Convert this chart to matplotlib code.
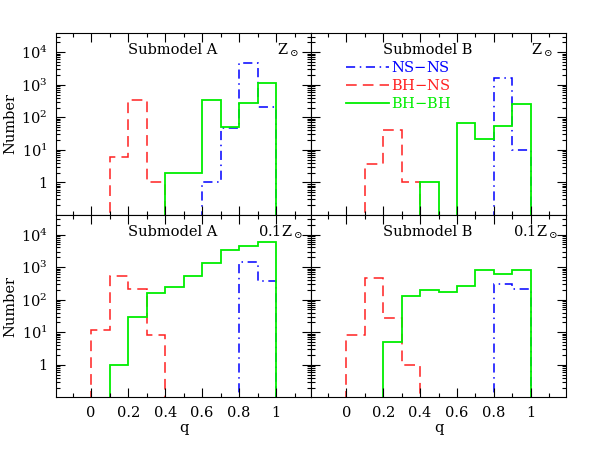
import numpy as np
import matplotlib
matplotlib.use("Agg")
import matplotlib.pyplot as plt
from matplotlib.ticker import FixedLocator, FixedFormatter, NullFormatter

plt.rcParams["font.family"] = ["DejaVu Serif"]
plt.rcParams["mathtext.fontset"] = "dejavuserif"
plt.rcParams["font.size"] = 10.5

# bin edges in mass ratio q
edges = np.round(np.arange(0.0, 1.01, 0.1), 1)

# counts per bin (0 = empty bin)
nsns_A_sol = [0, 0, 0, 0, 0, 0, 1, 46, 4800, 210]
bhns_A_sol = [0, 6, 330, 1, 0, 0, 0, 0, 0, 0]
bhbh_A_sol = [0, 0, 0, 0, 2, 2, 330, 51, 280, 1100]

nsns_B_sol = [0, 0, 0, 0, 0, 0, 0, 0, 1650, 10]
bhns_B_sol = [0, 3.8, 40, 1, 0, 0, 0, 0, 0, 0]
bhbh_B_sol = [0, 0, 0, 0, 1, 0, 66, 21, 54, 260]

nsns_A_low = [0, 0, 0, 0, 0, 0, 0, 0, 1440, 375]
bhns_A_low = [12, 540, 208, 8.2, 0, 0, 0, 0, 0, 0]
bhbh_A_low = [0, 1, 29, 164, 250, 540, 1340, 3300, 4300, 6000]

nsns_B_low = [0, 0, 0, 0, 0, 0, 0, 0, 310, 218]
bhns_B_low = [8, 465, 27, 1, 0, 0, 0, 0, 0, 0]
bhbh_B_low = [0, 0, 5, 130, 200, 177, 257, 800, 600, 820]

panels = [
    ("Submodel A", r"Z$_\odot$", nsns_A_sol, bhns_A_sol, bhbh_A_sol),
    ("Submodel B", r"Z$_\odot$", nsns_B_sol, bhns_B_sol, bhbh_B_sol),
    ("Submodel A", r"0.1Z$_\odot$", nsns_A_low, bhns_A_low, bhbh_A_low),
    ("Submodel B", r"0.1Z$_\odot$", nsns_B_low, bhns_B_low, bhbh_B_low),
]

FLOOR = 1e-3  # drawn below the axis so empty bins drop out of view


def draw_hist(ax, counts, **kw):
    c = np.array(counts, dtype=float)
    nz = np.nonzero(c)[0]
    lo, hi = nz[0], nz[-1] + 1
    vals = np.where(c[lo:hi] > 0, c[lo:hi], FLOOR)
    return ax.stairs(vals, edges[lo:hi + 1], baseline=FLOOR, **kw)


fig = plt.figure(figsize=(5.98, 4.51), dpi=100)
x0, xm, x1 = 56 / 598, 311.3 / 598, 565.7 / 598
yb, ym, yt = 1 - 397.3 / 451, 1 - 215 / 451, 1 - 32.7 / 451
w = xm - x0
h = ym - yb
rects = [(x0, ym, w, yt - ym), (xm, ym, x1 - xm, yt - ym),
         (x0, yb, w, h), (xm, yb, x1 - xm, h)]

yticks = [1, 10, 100, 1000, 10000]
ylabels = ["1", r"10$^1$", r"10$^2$", r"10$^3$", r"10$^4$"]
yminor = [m * 10.0 ** k for k in range(-1, 5) for m in range(2, 10)]
xmajor = [0, 0.2, 0.4, 0.6, 0.8, 1.0]
xlabels = ["0", "0.2", "0.4", "0.6", "0.8", "1"]
xminor = [-0.1, 0.1, 0.3, 0.5, 0.7, 0.9, 1.1]

for i, (title, metal, nsns, bhns, bhbh) in enumerate(panels):
    ax = fig.add_axes(rects[i])
    ax.set_yscale("log")
    l1 = draw_hist(ax, nsns, color="#0000ff", lw=1.1, linestyle=(0, (6, 3, 1, 3)))
    l2 = draw_hist(ax, bhns, color="#ff2020", lw=1.1, linestyle=(0, (7, 4)))
    l3 = draw_hist(ax, bhbh, color="#00ee00", lw=1.3)
    ax.set_xlim(-0.19, 1.19)
    ax.set_ylim(0.1, 10 ** 4.6)

    ax.xaxis.set_major_locator(FixedLocator(xmajor))
    ax.xaxis.set_minor_locator(FixedLocator(xminor))
    ax.yaxis.set_major_locator(FixedLocator(yticks))
    ax.yaxis.set_minor_locator(FixedLocator(yminor))
    ax.yaxis.set_minor_formatter(NullFormatter())
    ax.tick_params(which="both", direction="in", top=True, right=True,
                   width=0.8, colors="black")
    ax.tick_params(which="major", length=6.5, pad=6)
    ax.tick_params(which="minor", length=3.2)
    for s in ax.spines.values():
        s.set_linewidth(0.8)

    if i >= 2:
        ax.xaxis.set_major_formatter(FixedFormatter(xlabels))
        ax.set_xlabel("q", labelpad=1)
    else:
        ax.xaxis.set_major_formatter(NullFormatter())
    if i % 2 == 0:
        ax.yaxis.set_major_formatter(FixedFormatter(ylabels))
        ax.set_ylabel("Number")
        ax.yaxis.set_label_coords(-0.153, 0.5)
    else:
        ax.yaxis.set_major_formatter(NullFormatter())

    ax.text(0.458, 0.905, title, transform=ax.transAxes, ha="center", va="center")
    ax.text(0.865 if i < 2 else 0.793, 0.905, metal, transform=ax.transAxes,
            ha="left", va="center")

    if i == 1:
        ax.legend([l1, l2, l3], ["NS$-$NS", "BH$-$NS", "BH$-$BH"],
                  loc="upper left", bbox_to_anchor=(0.135, 0.85), frameon=False,
                  handlelength=3.0, handletextpad=0.1, labelspacing=0.2,
                  labelcolor="linecolor", borderaxespad=0, borderpad=0)

fig.savefig("out.png", dpi=100)
